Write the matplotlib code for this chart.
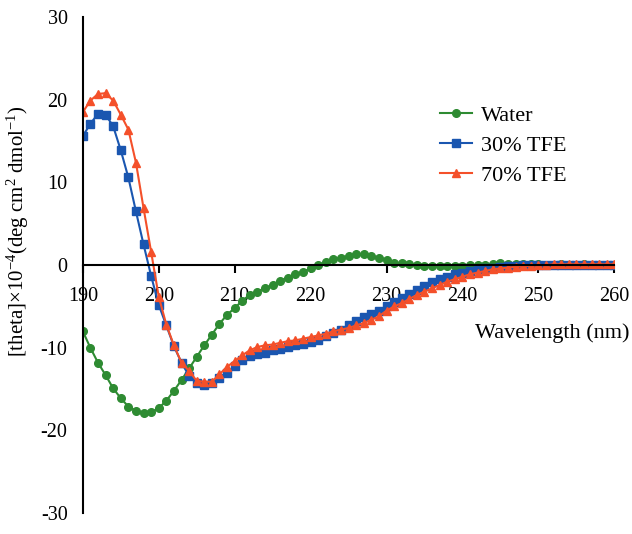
import numpy as np
import matplotlib
matplotlib.use("Agg")
import matplotlib.pyplot as plt

plt.rcParams['font.family'] = ['Liberation Serif', 'DejaVu Serif']
plt.rcParams['mathtext.fontset'] = 'custom'
plt.rcParams['mathtext.rm'] = 'Liberation Serif'
plt.rcParams['mathtext.default'] = 'regular'
plt.rcParams['axes.unicode_minus'] = False

wavelength = list(range(190, 261))

water = [-8.0, -10.0, -11.8, -13.3, -14.9, -16.1, -17.1, -17.6, -17.9, -17.8,
         -17.3, -16.4, -15.2, -13.9, -12.5, -11.1, -9.7, -8.4, -7.1, -6.0,
         -5.2, -4.3, -3.6, -3.2, -2.8, -2.4, -1.9, -1.5, -1.1, -0.8,
         -0.4, 0.0, 0.4, 0.7, 0.9, 1.1, 1.3, 1.3, 1.1, 0.9,
         0.6, 0.3, 0.2, 0.1, 0.0, -0.1, -0.1, -0.1, -0.1, -0.1,
         -0.1, 0.0, 0.0, 0.0, 0.1, 0.2, 0.1, 0.1, 0.1, 0.1,
         0.1, 0.0, 0.0, 0.1, 0.0, 0.0, 0.1, 0.0, 0.0, 0.0,
         0.0]

tfe30 = [15.6, 17.1, 18.3, 18.2, 16.8, 13.9, 10.6, 6.5, 2.5, -1.3,
         -4.8, -7.3, -9.8, -11.8, -13.4, -14.2, -14.5, -14.3, -13.6, -13.0,
         -12.2, -11.5, -11.0, -10.8, -10.6, -10.3, -10.1, -9.9, -9.7, -9.5,
         -9.3, -9.0, -8.6, -8.2, -7.8, -7.3, -6.8, -6.3, -5.9, -5.5,
         -5.0, -4.5, -4.0, -3.5, -3.0, -2.5, -2.1, -1.7, -1.4, -1.1,
         -0.9, -0.7, -0.5, -0.4, -0.3, -0.2, -0.1, -0.1, 0.0, 0.0,
         0.0, 0.0, 0.0, 0.0, 0.0, 0.0, 0.0, 0.0, 0.0, 0.0,
         0.0]

tfe70 = [18.5, 19.9, 20.7, 20.8, 19.9, 18.2, 16.4, 12.4, 6.9, 1.6,
         -3.8, -7.2, -9.7, -11.8, -12.8, -14.0, -14.1, -14.1, -13.2, -12.3,
         -11.6, -10.9, -10.3, -9.9, -9.7, -9.6, -9.4, -9.2, -9.1, -8.9,
         -8.7, -8.5, -8.3, -8.0, -7.8, -7.6, -7.3, -7.0, -6.6, -6.2,
         -5.5, -5.0, -4.6, -4.1, -3.6, -3.2, -2.8, -2.4, -2.0, -1.7,
         -1.4, -1.1, -0.9, -0.7, -0.5, -0.4, -0.3, -0.2, -0.1, -0.1,
         0.0, 0.0, 0.1, 0.1, 0.1, 0.1, 0.1, 0.1, 0.1, 0.1,
         0.1]

x_ticks = [190, 200, 210, 220, 230, 240, 250, 260]
y_ticks = [-30, -20, -10, 0, 10, 20, 30]

fig = plt.figure(figsize=(6.32, 5.34), dpi=100)
ax = fig.add_axes([0.131, 0.039, 0.841, 0.929])

ax.plot(wavelength, water, color='#2e8b32', marker='o', markersize=5.5, linewidth=1.5, label='Water')
ax.plot(wavelength, tfe30, color='#1a56b0', marker='s', markersize=5.5, linewidth=1.5, label='30% TFE')
ax.plot(wavelength, tfe70, color='#f4502a', marker='^', markersize=6, linewidth=1.5, label='70% TFE')

ax.set_xlim(190, 260)
ax.set_ylim(-30, 30)
ax.set_xticks(x_ticks)
ax.set_yticks(y_ticks)

ax.spines['top'].set_visible(False)
ax.spines['right'].set_visible(False)
ax.spines['bottom'].set_position(('data', 0))
ax.spines['bottom'].set_linewidth(1.5)
ax.spines['left'].set_linewidth(1.5)

ax.tick_params(axis='x', direction='out', length=6, width=1.5, pad=10, labelsize=14.5)
ax.tick_params(axis='y', length=0, pad=11, labelsize=14.5)

ax.text(262.0, -8.2, 'Wavelength (nm)', ha='right', va='center', fontsize=16)
ax.set_ylabel('[theta]×10$^{-4}$(deg cm$^{2}$ dmol$^{-1}$)', fontsize=15)
ax.yaxis.set_label_coords(-0.097, 0.569)

ax.legend(loc='upper left', bbox_to_anchor=(0.672, 0.822), frameon=False, fontsize=16,
          borderpad=0, borderaxespad=0, handlelength=1.45, handletextpad=0.4,
          labelspacing=0.42)

fig.savefig('out.png', dpi=100)
